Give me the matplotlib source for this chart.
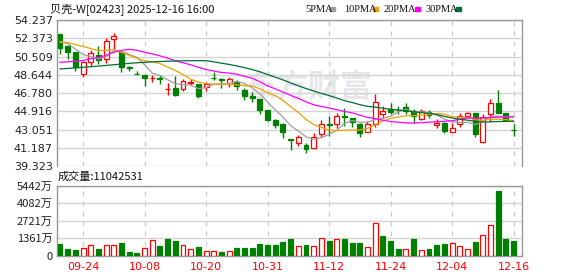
import matplotlib

matplotlib.use("Agg")
import matplotlib.pyplot as plt  # noqa: E402
import numpy as np  # noqa: E402
import pandas as pd  # noqa: E402
from matplotlib.patches import Rectangle  # noqa: E402

CJK = ["Noto Sans CJK SC", "DejaVu Sans"]
RED, GREEN = "#ff0000", "#008000"
MA_COLORS = ["#a0a0a0", "#f0a000", "#ff00ff", "#006f35"]

# ---- data (60 trading days, 09-19 .. 12-16) ----
dates = ["09-19", "09-22", "09-23", "09-24", "09-25", "09-26", "09-29", "09-30",
         "10-02", "10-03", "10-06", "10-08", "10-09", "10-10", "10-13", "10-14",
         "10-15", "10-16", "10-17", "10-20", "10-21", "10-22", "10-23", "10-24",
         "10-27", "10-28", "10-30", "10-31", "11-03", "11-04", "11-05", "11-06",
         "11-07", "11-10", "11-11", "11-12", "11-13", "11-14", "11-17", "11-18",
         "11-19", "11-20", "11-21", "11-24", "11-25", "11-26", "11-27", "11-28",
         "12-01", "12-02", "12-03", "12-04", "12-05", "12-08", "12-09", "12-10",
         "12-11", "12-12", "12-15", "12-16"]
opens = [52.78, 51.59, 50.95, 48.74, 49.99, 50.67, 50.24, 52.27, 50.95, 49.48,
         48.72, 48.60, 48.28, 48.30, 47.19, 47.28, 47.18, 47.87, 47.69, 47.38,
         48.37, 48.20, 47.69, 47.89, 47.11, 46.50, 46.19, 45.07, 44.05, 43.61,
         42.12, 41.68, 41.50, 41.19, 42.59, 43.62, 43.61, 44.41, 44.22, 43.64,
         42.86, 43.61, 44.63, 45.14, 45.07, 45.41, 44.97, 44.12, 44.84, 43.54,
         43.78, 42.86, 43.61, 44.49, 44.73, 41.84, 44.63, 45.75, 44.76, 43.07]
highs = [52.85, 51.74, 51.00, 50.06, 51.18, 51.59, 52.44, 52.94, 51.08, 49.58,
         49.07, 48.62, 48.64, 48.64, 47.79, 48.52, 48.23, 48.20, 47.72, 47.95,
         48.91, 48.36, 48.40, 48.13, 47.28, 46.94, 46.22, 45.10, 44.12, 43.71,
         42.14, 42.52, 41.68, 42.70, 44.05, 44.49, 44.73, 45.30, 44.25, 43.78,
         43.98, 46.70, 45.48, 45.75, 45.48, 45.75, 45.14, 45.17, 45.07, 44.12,
         43.88, 43.71, 44.80, 44.90, 44.80, 44.63, 46.19, 47.11, 44.80, 43.64]
lows = [50.74, 50.23, 49.07, 48.46, 49.55, 49.72, 49.83, 51.28, 48.97, 49.07,
        48.70, 47.55, 47.89, 47.69, 46.60, 46.50, 47.04, 47.62, 46.32, 47.04,
        48.13, 47.34, 47.44, 47.11, 46.09, 45.85, 44.63, 43.98, 43.27, 42.25,
        41.00, 41.43, 40.72, 41.10, 42.35, 42.42, 43.21, 43.44, 43.37, 42.35,
        42.80, 43.37, 44.28, 44.63, 44.63, 44.63, 43.78, 44.05, 44.29, 43.27,
        42.76, 42.86, 43.37, 44.39, 42.35, 41.68, 43.88, 44.73, 44.05, 42.42]
closes = [51.42, 51.01, 49.40, 49.93, 50.85, 50.16, 52.10, 52.61, 49.48, 49.30,
          48.70, 48.30, 48.32, 48.26, 47.21, 46.60, 48.02, 47.90, 46.50, 47.69,
          48.35, 48.17, 48.23, 47.51, 46.53, 46.26, 45.07, 44.05, 43.54, 42.80,
          41.98, 42.29, 41.06, 42.29, 43.64, 43.58, 44.49, 44.37, 43.88, 42.76,
          43.64, 45.85, 44.97, 44.90, 45.03, 44.97, 44.49, 44.97, 44.56, 43.78,
          42.93, 43.21, 44.46, 44.73, 42.62, 44.39, 45.75, 44.80, 44.10, 43.03]
# volume in 万 shares, and whether the bar is drawn red (hollow)
volumes = [932, 544, 466, 622, 829, 544, 829, 829, 1010, 311,
           233, 622, 1243, 777, 1321, 1165, 829, 544, 700, 389,
           389, 311, 389, 622, 622, 622, 932, 855, 855, 1088,
           1321, 751, 829, 751, 1373, 1165, 1295, 1321, 1010, 1010,
           674, 2538, 1554, 1165, 544, 518, 1321, 440, 544, 829,
           932, 984, 751, 544, 1088, 1606, 2383, 5050, 1321, 1104]
vol_red = [0, 0, 0, 1, 1, 0, 1, 1, 0, 0, 0, 1, 1, 0, 0, 0, 1, 1, 0, 1,
           1, 0, 1, 0, 0, 0, 0, 0, 0, 0, 0, 1, 0, 1, 1, 0, 1, 0, 0, 0,
           1, 1, 0, 0, 0, 1, 0, 1, 0, 0, 0, 1, 1, 1, 0, 1, 1, 0, 0, 0]
# moving-average values before each window is full
ma_heads = {
    5: [51.97, 51.86, 51.28, 50.72],
    10: [52.03, 51.93, 51.74, 51.54, 51.33, 51.13, 51.15, 51.20, 50.95],
    20: [49.93, 49.98, 50.03, 50.11, 50.30, 50.42, 50.65, 50.95, 51.15, 51.25,
         51.15, 50.96, 50.78, 50.59, 50.35, 50.08, 49.88, 49.68, 49.41],
    30: [49.25, 49.30, 49.36, 49.42, 49.48, 49.54, 49.61, 49.68, 49.75, 49.82,
         49.88, 49.93, 49.97, 50.01, 50.04, 50.06, 50.08, 50.09, 50.10, 50.09,
         49.97, 49.84, 49.71, 49.56, 49.38, 49.19, 48.96, 48.69, 48.41],
}
price_ticks = ["39.323", "41.187", "43.051", "44.916", "46.780", "48.644",
               "50.509", "52.373", "54.237"]
vol_ticks = [0, 1361, 2721, 4082, 5442]
date_ticks = ["09-24", "10-08", "10-20", "10-31", "11-12", "11-24", "12-04", "12-16"]

W, H = 578, 276


def rect(left, top, right, bottom):
    return [left / W, 1 - bottom / H, (right - left) / W, (bottom - top) / H]


def style(ax):
    for sp in ax.spines.values():
        sp.set_color("#999999")
        sp.set_linewidth(1.0)
    ax.tick_params(length=0, labelsize=8, colors="#222222", pad=3)
    ax.set_axisbelow(True)
    ax.set_xlim(-0.39, 60.1)
    ax.set_xticks([dates.index(d) for d in date_ticks])
    ax.grid(axis="x", color="#cccccc", lw=0.9, ls=(0, (4, 4)))
    ax.grid(axis="y", color="#d4d4d4", lw=1.0)


fig = plt.figure(figsize=(W / 100, H / 100), dpi=100)
ax = fig.add_axes(rect(57, 20, 522, 166.4))
axv = fig.add_axes(rect(57, 186, 522, 255.5))

x = np.arange(len(dates))
o, h, l, c = map(np.array, (opens, highs, lows, closes))
up = c >= o
edge = np.where(up, RED, GREEN)
face = np.where(up, "white", GREEN)

style(ax)
ax.spines["bottom"].set_visible(False)
ax.set_ylim(39.323, 54.237)
ax.set_yticks([float(t) for t in price_ticks], price_ticks)
ax.tick_params(axis="x", labelbottom=False)

# faint site watermark
ax.text(0.54, 0.53, "东方财富", transform=ax.transAxes, ha="center", va="center",
        fontsize=23, fontweight="bold", color="#e6e6eb", family=CJK, zorder=0)

ax.vlines(x, l, h, colors=edge, lw=1.0, zorder=2)
ax.bar(x, np.maximum(np.abs(c - o), 0.02), 0.64, bottom=np.minimum(o, c),
       color=face, edgecolor=edge, linewidth=0.9, zorder=3)

close_s = pd.Series(closes)
for (n, head), col in zip(ma_heads.items(), MA_COLORS):
    ma = close_s.rolling(n).mean().to_numpy()
    ma[:n - 1] = head
    ax.plot(x, ma, color=col, lw=0.9, zorder=4)

style(axv)
vr = np.array(vol_red, bool)
axv.bar(x, volumes, 0.64, color=np.where(vr, "white", GREEN),
        edgecolor=np.where(vr, RED, GREEN), linewidth=0.9, zorder=3)
axv.set_ylim(0, 5442)
axv.set_yticks(vol_ticks, ["0"] + [f"{v}万" for v in vol_ticks[1:]], family=CJK)
axv.set_xticklabels(date_ticks, color=RED, fontsize=8)
axv.tick_params(axis="x", pad=5)

# header: title and MA legend
fig.text(50 / W, 1 - 9 / H, "贝壳-W[02423] 2025-12-16 16:00", fontsize=8,
         family=CJK, va="center", color="#111111")
for label, col, lx, sx in zip(["5PMA", "10PMA", "20PMA", "30PMA"], MA_COLORS,
                              [305, 344, 384, 426], [330, 373, 415, 456]):
    fig.text(lx / W, 1 - 9 / H, label, fontsize=7.5, family="Liberation Serif",
             va="center", color="#111111")
    fig.add_artist(Rectangle((sx / W, 1 - 10.5 / H), 5 / W, 3.5 / H,
                             transform=fig.transFigure, color=col))
fig.text(58 / W, 1 - 177 / H, "成交量:11042531", fontsize=8, family=CJK,
         va="center", color="#111111")

fig.savefig("out.png", dpi=100)
